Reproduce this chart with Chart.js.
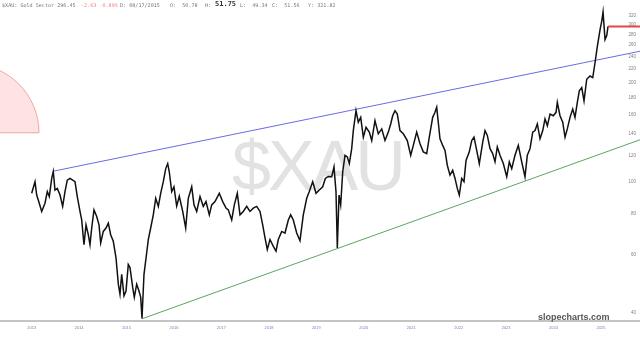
<!DOCTYPE html>
<html>
<head>
<meta charset="utf-8">
<script src="https://cdn.jsdelivr.net/npm/chart.js@4.4.1/dist/chart.umd.min.js"></script>
<style>
  html, body { margin: 0; padding: 0; background: #ffffff; }
  #wrap { position: relative; width: 640px; height: 339px; overflow: hidden; background: #fff; }
  #wm { position: absolute; left: 232px; top: 131px; font-family: "Liberation Sans", Arial, sans-serif; font-size: 70px; line-height: 70px; color: #e2e2e2; letter-spacing: -3px; white-space: nowrap; z-index: 0; }
  canvas { position: absolute; left: 0; top: 0; z-index: 1; }
  .hd { position: absolute; top: 2px; font-family: "DejaVu Sans Mono", "Liberation Mono", monospace; font-size: 5.1px; line-height: 6px; color: #777; white-space: pre; z-index: 2; }
  .red { color: #ee8888; }
  .big { font-weight: bold; font-size: 7px; color: #333; top: 1px; line-height: 7px; }
  #brand { position: absolute; left: 538px; top: 313px; font-family: "Liberation Sans", Arial, sans-serif; font-weight: bold; font-size: 9px; line-height: 9px; color: #555; white-space: nowrap; z-index: 2; }
</style>
</head>
<body>
<div id="wrap">
  <div id="wm">$XAU</div>
  <canvas id="c" width="640" height="339"></canvas>
  <span class="hd" style="left:2px">$XAU: Gold Sector 296.45</span>
  <span class="hd red" style="left:81px">-2.63 -0.89%</span>
  <span class="hd" style="left:120px">D: 08/17/2015</span>
  <span class="hd" style="left:170px">O:  50.78</span>
  <span class="hd" style="left:205px">H:</span>
  <span class="hd big" style="left:215px">51.75</span>
  <span class="hd" style="left:240px">L:  49.34</span>
  <span class="hd" style="left:272px">C:  51.56</span>
  <span class="hd" style="left:308px">Y: 321.82</span>
  <div id="brand">slopecharts.com</div>
</div>
<script>
// ---- data ----
const years = [
2013.000,2013.070,2013.105,2013.139,2013.211,2013.280,2013.329,2013.371,2013.422,2013.455,
2013.491,2013.540,2013.597,2013.653,2013.702,2013.750,2013.807,2013.864,2013.913,2013.961,
2014.018,2014.054,2014.102,2014.145,2014.193,2014.229,2014.265,2014.313,2014.370,2014.419,
2014.454,2014.509,2014.566,2014.615,2014.665,2014.720,2014.777,2014.826,2014.861,2014.897,
2014.946,2014.988,2015.036,2015.072,2015.129,2015.163,2015.213,2015.262,2015.298,2015.325,
2015.367,2015.424,2015.458,2015.508,2015.563,2015.614,2015.669,2015.719,2015.774,2015.825,
2015.867,2015.900,2015.951,2015.999,2016.056,2016.111,2016.183,2016.246,2016.301,2016.373,
2016.421,2016.478,2016.548,2016.617,2016.674,2016.744,2016.794,2016.864,2016.954,2017.026,
2017.096,2017.144,2017.216,2017.271,2017.334,2017.391,2017.460,2017.532,2017.601,2017.671,
2017.743,2017.812,2017.869,2017.918,2017.966,2018.023,2018.093,2018.150,2018.198,2018.270,
2018.339,2018.409,2018.459,2018.514,2018.586,2018.655,2018.725,2018.797,2018.851,2018.923,
2018.993,2019.062,2019.134,2019.189,2019.252,2019.324,2019.372,2019.414,2019.442,2019.478,
2019.513,2019.556,2019.604,2019.653,2019.695,2019.745,2019.779,2019.836,2019.884,2019.935,
2019.990,2020.047,2020.116,2020.167,2020.236,2020.306,2020.378,2020.447,2020.517,2020.567,
2020.609,2020.658,2020.706,2020.763,2020.833,2020.917,2020.989,2021.044,2021.115,2021.185,
2021.254,2021.326,2021.381,2021.452,2021.501,2021.537,2021.570,2021.606,2021.663,2021.712,
2021.760,2021.817,2021.874,2021.923,2021.971,2022.013,2022.064,2022.112,2022.155,2022.224,
2022.275,2022.323,2022.380,2022.435,2022.507,2022.555,2022.604,2022.661,2022.717,2022.766,
2022.814,2022.871,2022.941,2023.013,2023.067,2023.118,2023.187,2023.257,2023.329,2023.398,
2023.447,2023.504,2023.561,2023.609,2023.658,2023.715,2023.772,2023.820,2023.869,2023.926,
2023.995,2024.052,2024.079,2024.136,2024.193,2024.242,2024.290,2024.347,2024.404,2024.452,
2024.501,2024.543,2024.594,2024.642,2024.699,2024.769,2024.826,2024.874,2024.923,2024.980,
2025.015,2025.043,2025.085,2025.121,2025.148
];
const prices = [
92.2,100.0,91.1,88.0,81.2,86.0,93.3,90.1,102.3,107.4,94.3,95.4,91.1,84.1,93.3,101.1,102.3,101.1,100.0,90.1,
81.2,76.5,64.3,73.9,69.0,64.3,72.3,82.1,78.4,73.9,65.1,70.6,72.3,74.8,69.0,65.9,58.7,48.8,45.5,52.3,
45.0,46.5,56.0,54.8,47.7,44.5,48.8,46.5,44.5,38.4,52.3,60.8,66.7,72.3,79.3,89.0,84.1,92.2,100.0,109.6,
113.5,107.2,93.3,96.5,84.3,90.3,81.2,72.3,89.0,96.5,85.0,81.2,90.1,84.1,87.0,79.3,85.0,87.0,92.2,87.0,
83.1,82.1,76.5,85.0,92.2,79.3,81.2,84.1,81.2,83.1,84.1,81.2,73.9,67.5,62.2,66.7,63.6,61.5,66.7,70.6,
69.8,76.5,79.3,76.5,69.8,66.2,79.3,89.0,93.3,100.0,92.2,94.3,96.5,102.3,103.7,103.5,110.9,93.3,62.9,91.1,
85.0,107.2,120.3,118.9,113.5,126.0,143.0,164.4,151.6,156.9,136.6,146.4,141.5,133.4,153.3,139.8,144.7,133.4,141.5,149.8,
158.7,164.4,160.6,143.0,139.8,133.4,120.3,128.9,141.5,130.4,123.2,121.7,136.6,156.9,162.5,168.3,151.6,135.0,128.9,124.5,
112.2,104.7,108.3,102.3,95.4,91.1,102.3,100.0,116.1,123.2,133.4,136.6,124.5,113.5,132.0,143.0,138.2,126.0,121.7,114.9,
127.5,120.3,113.5,103.5,114.9,109.6,120.3,128.9,114.9,103.5,120.3,126.0,141.5,143.0,149.8,135.0,143.0,155.1,148.0,160.6,
158.7,162.5,174.2,158.7,151.6,136.6,144.7,156.9,166.3,156.9,174.2,188.8,193.3,176.1,204.8,209.5,207.2,229.9,257.9,289.7,
306.9,328.3,270.3,277.9,296.45
];
const lastClose = 296.45;
const upperTrendYears = [2013.455, 2025.822];
const upperTrendValues = [107.6, 249.2];
const lowerTrendYears = [2015.325, 2025.822];
const lowerTrendValues = [38.3, 134.1];
const yearTicks = [2013,2014,2015,2016,2017,2018,2019,2020,2021,2022,2023,2024,2025];
const priceTicks = [40,60,80,100,120,140,160,180,200,220,240,260,280,300,320];
// circle annotation (center in data units)
const circleCenterYear = 2011.70;
const circleCenterValue = 140.8;

const xMin = 2012.332, xMax = 2025.822;
const yMin = 37.66, yMax = 356.7;

const pts = (xs, ys) => xs.map((x, i) => ({ x: x, y: ys[i] }));
const n = Math.min(years.length, prices.length);
const priceData = pts(years.slice(0, n), prices.slice(0, n));
const lastLine = [{ x: years[n - 1], y: lastClose }, { x: xMax, y: lastClose }];

const circlePlugin = {
  id: 'circleAnno',
  beforeDatasetsDraw(chart) {
    const ctx = chart.ctx;
    const xs = chart.scales.x, ys = chart.scales.y;
    const cx = xs.getPixelForValue(circleCenterYear);
    const cy = ys.getPixelForValue(circleCenterValue);
    const r = 69;
    ctx.save();
    ctx.beginPath();
    ctx.arc(cx, cy, r, Math.PI, 2 * Math.PI);
    ctx.closePath();
    ctx.fillStyle = 'rgba(252, 215, 215, 0.7)';
    ctx.fill();
    ctx.strokeStyle = '#f0a6a6';
    ctx.lineWidth = 1;
    ctx.stroke();
    ctx.restore();
  }
};

new Chart(document.getElementById('c'), {
  type: 'line',
  data: {
    datasets: [
      { data: priceData, borderColor: '#111', borderWidth: 1.5, pointRadius: 0, tension: 0, order: 1 },
      { data: pts(upperTrendYears, upperTrendValues), borderColor: '#6a6ae6', borderWidth: 1, pointRadius: 0, order: 2 },
      { data: pts(lowerTrendYears, lowerTrendValues), borderColor: '#5fa35f', borderWidth: 1, pointRadius: 0, order: 2 },
      { data: lastLine, borderColor: '#e04848', borderWidth: 2, pointRadius: 0, order: 0 }
    ]
  },
  options: {
    responsive: false,
    animation: false,
    events: [],
    layout: { padding: { left: 0, right: 0, top: 0, bottom: 5 } },
    plugins: { legend: { display: false }, tooltip: { enabled: false }, title: { display: false } },
    scales: {
      x: {
        type: 'linear', min: xMin, max: xMax,
        grid: { display: false, drawTicks: false },
        border: { display: true, color: '#c4c4c4', width: 2 },
        afterBuildTicks: (s) => { s.ticks = yearTicks.map(v => ({ value: v })); },
        ticks: {
          padding: 4, maxRotation: 0, autoSkip: false,
          color: '#7d7db0', font: { family: 'Liberation Sans, Arial, sans-serif', size: 4 },
          callback: (v) => String(v)
        }
      },
      y: {
        type: 'logarithmic', position: 'right', min: yMin, max: yMax,
        grid: { display: false, drawTicks: false },
        border: { display: false },
        afterBuildTicks: (s) => { s.ticks = priceTicks.map(v => ({ value: v })); },
        afterFit: (s) => { s.width = 0; },
        ticks: {
          mirror: true, padding: -4, autoSkip: false,
          color: '#808080', font: { family: 'Liberation Sans, Arial, sans-serif', size: 4.5 },
          callback: (v) => String(v)
        }
      }
    }
  },
  plugins: [circlePlugin]
});
</script>
</body>
</html>
